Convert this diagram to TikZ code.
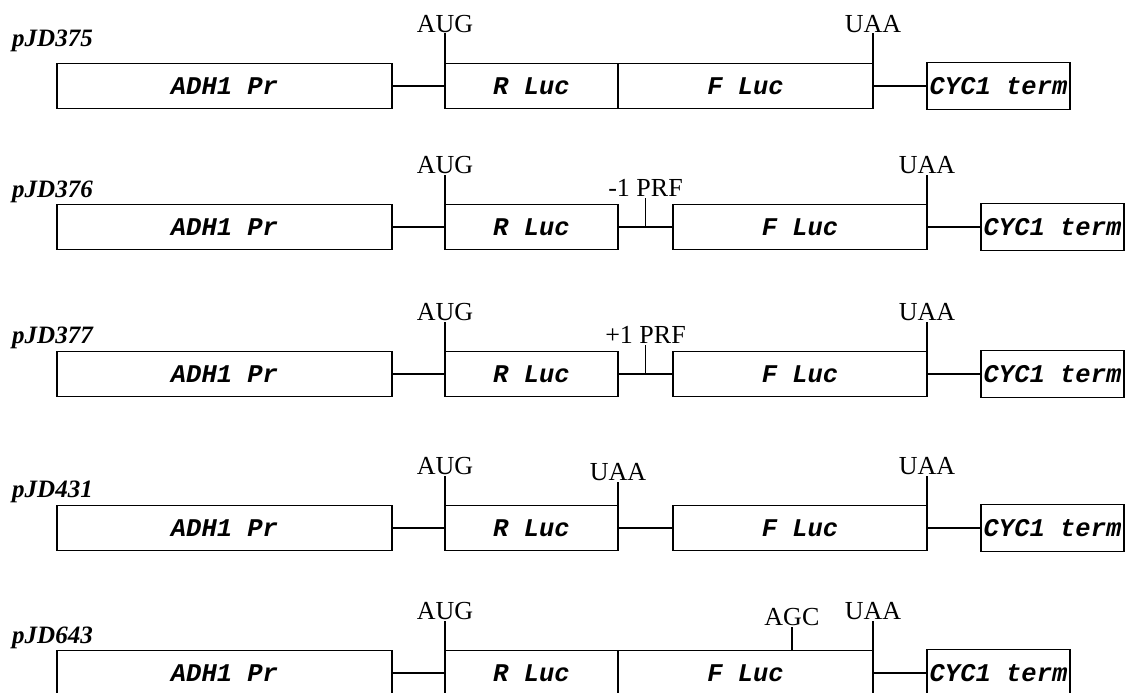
\documentclass[tikz,border=0pt]{standalone}
\usepackage{fontspec}
\setmainfont{Liberation Serif}
\setmonofont{Liberation Mono}
\usetikzlibrary{positioning, calc}

\begin{document}
\begin{tikzpicture}[
  x=1pt, y=-1pt,
  segbox/.style={rectangle, draw, line width=1.5pt, outer sep=0pt, minimum height=45pt, inner sep=1pt, font=\fontsize{25.5}{28}\ttfamily\bfseries\itshape},
  codon/.style={inner sep=1pt, font=\fontsize{26}{28}\selectfont},
  plasmid/.style={anchor=base west, inner sep=0pt, font=\fontsize{25}{28}\selectfont\bfseries\itshape},
  link/.style={line width=1.5pt}
]
  \useasboundingbox (0,0) rectangle (1127,693);

  \node[plasmid] (name1) at (12,47) {pJD375};
  \node[segbox, minimum width=335pt] (adh1) at (224.5,86) {ADH1 Pr};
  \node[segbox, minimum width=173pt, right=53pt of adh1] (rluc1) {R Luc};
  \node[segbox, minimum width=255pt, right=0pt of rluc1] (fluc1) {F Luc};
  \node[segbox, minimum width=143pt, minimum height=47pt, right=54pt of fluc1] (cyc1) {CYC1 term};
  \node[codon, above=30pt of rluc1.north west] (aug1) {AUG};
  \node[codon, above=30pt of fluc1.north east] (uaa1) {UAA};
  \draw[link] (adh1) -- (rluc1);
  \draw[link] (fluc1) -- (cyc1);
  \draw[link] (rluc1.north west) -- (aug1);
  \draw[link] (fluc1.north east) -- (uaa1);

  \node[plasmid] (name2) at (12,197) {pJD376};
  \node[segbox, minimum width=335pt] (adh2) at (224.5,227) {ADH1 Pr};
  \node[segbox, minimum width=173pt, right=53pt of adh2] (rluc2) {R Luc};
  \node[segbox, minimum width=254pt, right=55pt of rluc2] (fluc2) {F Luc};
  \node[segbox, minimum width=143pt, minimum height=47pt, right=54pt of fluc2] (cyc2) {CYC1 term};
  \coordinate (fs2) at ($(rluc2.east)!0.5!(fluc2.west)$);
  \node[codon, above=30pt of rluc2.north west] (aug2) {AUG};
  \node[codon, above=30pt of fluc2.north east] (uaa2) {UAA};
  \node[codon, above=29pt of fs2] (prf2) {-1 PRF};
  \draw[link] (adh2) -- (rluc2);
  \draw[link] (rluc2) -- (fluc2);
  \draw[link] (fluc2) -- (cyc2);
  \draw[link] (rluc2.north west) -- (aug2);
  \draw[link] (fluc2.north east) -- (uaa2);
  \draw[link] (fs2) -- (prf2);

  \node[plasmid] (name3) at (12,343) {pJD377};
  \node[segbox, minimum width=335pt] (adh3) at (224.5,374) {ADH1 Pr};
  \node[segbox, minimum width=173pt, right=53pt of adh3] (rluc3) {R Luc};
  \node[segbox, minimum width=254pt, right=55pt of rluc3] (fluc3) {F Luc};
  \node[segbox, minimum width=143pt, minimum height=47pt, right=54pt of fluc3] (cyc3) {CYC1 term};
  \coordinate (fs3) at ($(rluc3.east)!0.5!(fluc3.west)$);
  \node[codon, above=30pt of rluc3.north west] (aug3) {AUG};
  \node[codon, above=30pt of fluc3.north east] (uaa3) {UAA};
  \node[codon, above=29pt of fs3] (prf3) {+1 PRF};
  \draw[link] (adh3) -- (rluc3);
  \draw[link] (rluc3) -- (fluc3);
  \draw[link] (fluc3) -- (cyc3);
  \draw[link] (rluc3.north west) -- (aug3);
  \draw[link] (fluc3.north east) -- (uaa3);
  \draw[link] (fs3) -- (prf3);

  \node[plasmid] (name4) at (12,497) {pJD431};
  \node[segbox, minimum width=335pt] (adh4) at (224.5,528) {ADH1 Pr};
  \node[segbox, minimum width=173pt, right=53pt of adh4] (rluc4) {R Luc};
  \node[segbox, minimum width=254pt, right=55pt of rluc4] (fluc4) {F Luc};
  \node[segbox, minimum width=143pt, minimum height=47pt, right=54pt of fluc4] (cyc4) {CYC1 term};
  \node[codon, above=30pt of rluc4.north west] (aug4) {AUG};
  \node[codon, above=24pt of rluc4.north east] (stop4) {UAA};
  \node[codon, above=30pt of fluc4.north east] (uaa4) {UAA};
  \draw[link] (adh4) -- (rluc4);
  \draw[link] (rluc4) -- (fluc4);
  \draw[link] (fluc4) -- (cyc4);
  \draw[link] (rluc4.north west) -- (aug4);
  \draw[link] (rluc4.north east) -- (stop4);
  \draw[link] (fluc4.north east) -- (uaa4);

  \node[plasmid] (name5) at (12,643) {pJD643};
  \node[segbox, minimum width=335pt] (adh5) at (224.5,673) {ADH1 Pr};
  \node[segbox, minimum width=173pt, right=53pt of adh5] (rluc5) {R Luc};
  \node[segbox, minimum width=255pt, right=0pt of rluc5] (fluc5) {F Luc};
  \node[segbox, minimum width=143pt, minimum height=47pt, right=54pt of fluc5] (cyc5) {CYC1 term};
  \coordinate (agcsite) at ($(fluc5.north west)!0.682!(fluc5.north east)$);
  \node[codon, above=30pt of rluc5.north west] (aug5) {AUG};
  \node[codon, above=24pt of agcsite] (agc5) {AGC};
  \node[codon, above=30pt of fluc5.north east] (uaa5) {UAA};
  \draw[link] (adh5) -- (rluc5);
  \draw[link] (fluc5) -- (cyc5);
  \draw[link] (rluc5.north west) -- (aug5);
  \draw[link] (agcsite) -- (agc5);
  \draw[link] (fluc5.north east) -- (uaa5);
\end{tikzpicture}
\end{document}
